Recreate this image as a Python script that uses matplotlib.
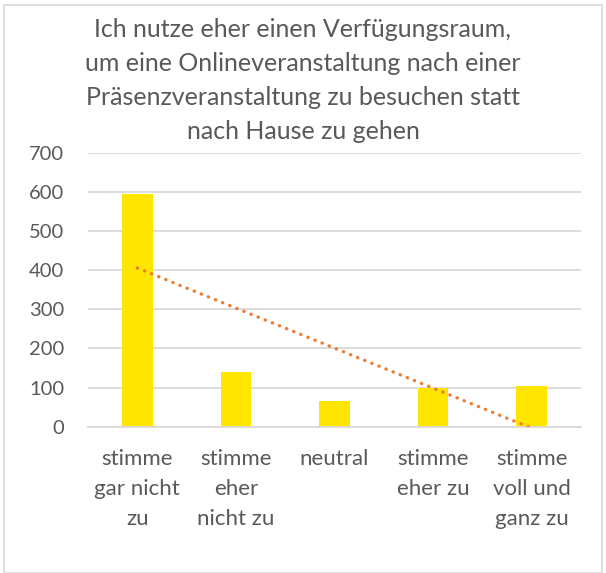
import numpy as np
import matplotlib
matplotlib.use("Agg")
import matplotlib.pyplot as plt
from matplotlib.patches import Rectangle

# Survey answers and counts
categories = [
    "stimme\ngar nicht\nzu",
    "stimme\neher\nnicht zu",
    "neutral",
    "stimme\neher zu",
    "stimme\nvoll und\nganz zu",
]
counts = [594, 141, 66, 100, 103]
y_ticks = [0, 100, 200, 300, 400, 500, 600, 700]
title = ("Ich nutze eher einen Verfügungsraum,\n"
         "um eine Onlineveranstaltung nach einer\n"
         "Präsenzveranstaltung zu besuchen statt\n"
         "nach Hause zu gehen")

TEXT = "#595959"
GRID = "#d9d9d9"
BAR = "#FFE600"
TREND = "#ED7D31"

plt.rcParams["font.family"] = ["Lato", "DejaVu Sans"]

fig = plt.figure(figsize=(6.06, 5.73), dpi=100)
ax = fig.add_axes([88 / 606, 1 - 426.7 / 573, (581 - 88) / 606, (426.7 - 152.7) / 573])

x = np.arange(len(categories))
ax.bar(x, counts, width=0.31, color=BAR, zorder=2)

# Linear trendline through the counts
slope, intercept = np.polyfit(x + 1, counts, 1)
xt = np.linspace(0, len(categories) - 1, 200)
yt = slope * (xt + 1) + intercept
ax.plot(xt, yt, color=TREND, linewidth=2.4, linestyle=(0, (0.1, 2.2)),
        dash_capstyle="round", zorder=3)

ax.set_xlim(-0.5, len(categories) - 0.5)
ax.set_ylim(0, 700)
ax.set_yticks(y_ticks)
ax.set_yticklabels([str(v) for v in y_ticks])
ax.set_xticks(x)
ax.set_xticklabels(categories, linespacing=1.62, fontsize=16)
ax.yaxis.grid(True, color=GRID, linewidth=1.3, zorder=0)
ax.set_axisbelow(True)
for s in ["top", "right", "left"]:
    ax.spines[s].set_visible(False)
ax.spines["bottom"].set_color(GRID)
ax.spines["bottom"].set_linewidth(1.3)
ax.tick_params(axis="both", length=0, labelcolor=TEXT)
ax.tick_params(axis="y", pad=17, labelsize=14.5)
ax.tick_params(axis="x", pad=16)

fig.text(0.5, 1 - 18 / 573, title, ha="center", va="top", fontsize=18,
         color=TEXT, linespacing=1.58)

# Chart area border
fig.patches.append(Rectangle((4 / 606, 0), 1 - 8 / 606, 1 - 4.5 / 573,
                             transform=fig.transFigure, fill=False,
                             edgecolor=GRID, linewidth=1.2))

fig.savefig("out.png", dpi=100)
